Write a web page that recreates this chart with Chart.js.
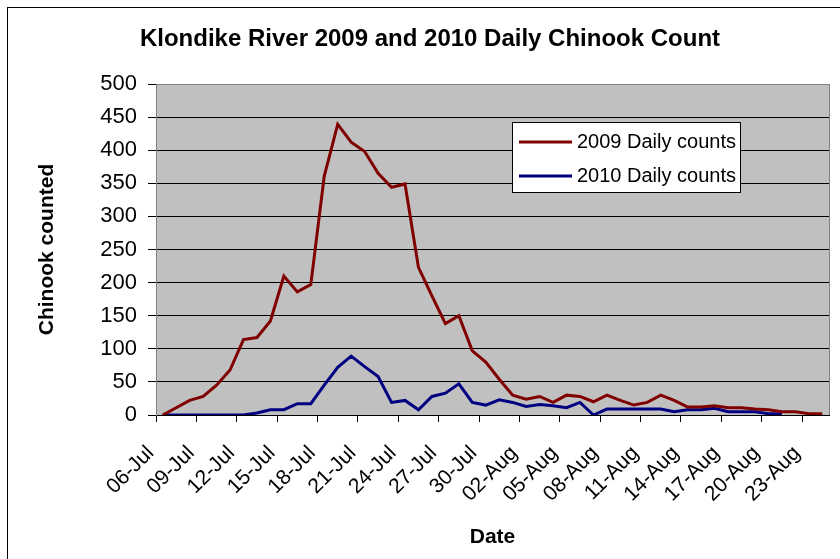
<!DOCTYPE html>
<html>
<head>
<meta charset="utf-8">
<script src="https://cdn.jsdelivr.net/npm/chart.js@4.4.1/dist/chart.umd.min.js"></script>
<style>
  html, body { margin: 0; padding: 0; background: #fff; }
  #wrap { width: 840px; height: 559px; }
</style>
</head>
<body>
<div id="wrap"><canvas id="chinookChart" width="840" height="559"></canvas></div>
<script>
const TITLE = "Klondike River 2009 and 2010 Daily Chinook Count";
const DATES = [
  "06-Jul", "07-Jul", "08-Jul", "09-Jul", "10-Jul", "11-Jul", "12-Jul", "13-Jul", "14-Jul", "15-Jul",
  "16-Jul", "17-Jul", "18-Jul", "19-Jul", "20-Jul", "21-Jul", "22-Jul", "23-Jul", "24-Jul", "25-Jul",
  "26-Jul", "27-Jul", "28-Jul", "29-Jul", "30-Jul", "31-Jul", "01-Aug", "02-Aug", "03-Aug", "04-Aug",
  "05-Aug", "06-Aug", "07-Aug", "08-Aug", "09-Aug", "10-Aug", "11-Aug", "12-Aug", "13-Aug", "14-Aug",
  "15-Aug", "16-Aug", "17-Aug", "18-Aug", "19-Aug", "20-Aug", "21-Aug", "22-Aug", "23-Aug", "24-Aug"
];
const COUNTS_2009 = [
  0, 11, 22, 28, 45, 68, 114, 117, 142, 210,
  186, 197, 361, 439, 412, 398, 365, 344, 349, 223,
  180, 138, 150, 97, 80, 54, 30, 24, 28, 19,
  30, 28, 20, 30, 22, 15, 19, 30, 22, 12,
  12, 14, 11, 11, 9, 8, 5, 5, 2, 2
];
const COUNTS_2010 = [
  0, 0, 0, 0, 0, 0, 0, 3, 8, 8,
  17, 17, 45, 72, 89, 73, 58, 19, 22, 8,
  28, 33, 47, 19, 15, 23, 19, 13, 16, 14,
  11, 19, 0, 9, 9, 9, 9, 9, 5, 8,
  8, 10, 5, 5, 5, 2, 2, null, null, null
];
const Y_TICKS = [0, 50, 100, 150, 200, 250, 300, 350, 400, 450, 500];

const FONT = "'Liberation Sans', Arial, sans-serif";

// white page, outer frame, grey plot area and the title
const plotBackground = {
  id: "plotBackground",
  beforeDraw(chart) {
    const { ctx, chartArea: a } = chart;
    ctx.save();
    ctx.fillStyle = "#fff";
    ctx.fillRect(0, 0, chart.width, chart.height);
    ctx.strokeStyle = "#000";
    ctx.lineWidth = 1;
    ctx.strokeRect(7.5, 7.5, chart.width, chart.height);
    ctx.fillStyle = "#c0c0c0";
    ctx.fillRect(a.left, a.top, a.right - a.left, a.bottom - a.top);
    ctx.fillStyle = "#000";
    ctx.font = "bold 24px " + FONT;
    ctx.textAlign = "center";
    ctx.textBaseline = "alphabetic";
    ctx.fillText(TITLE, 430, 46);
    ctx.restore();
  },
  afterDatasetsDraw(chart) {
    const { ctx, chartArea: a } = chart;
    ctx.save();
    ctx.strokeStyle = "#808080";
    ctx.lineWidth = 1;
    ctx.beginPath();
    ctx.moveTo(Math.round(a.right) + 0.5, a.top);
    ctx.lineTo(Math.round(a.right) + 0.5, a.bottom);
    ctx.stroke();
    ctx.restore();
  }
};

// Excel style legend box inside the plot
const boxLegend = {
  id: "boxLegend",
  afterDraw(chart) {
    const { ctx } = chart;
    const x = 512.5, y = 122.5, w = 228, h = 70;
    ctx.save();
    ctx.fillStyle = "#fff";
    ctx.fillRect(x, y, w, h);
    ctx.strokeStyle = "#000";
    ctx.lineWidth = 1;
    ctx.strokeRect(x, y, w, h);
    ctx.font = "20px " + FONT;
    ctx.textBaseline = "middle";
    chart.data.datasets.forEach((ds, i) => {
      const ly = 142 + i * 34;
      ctx.strokeStyle = ds.borderColor;
      ctx.lineWidth = 3;
      ctx.beginPath();
      ctx.moveTo(519, ly);
      ctx.lineTo(572, ly);
      ctx.stroke();
      ctx.fillStyle = "#000";
      ctx.fillText(ds.label, 577, ly);
    });
    ctx.restore();
  }
};

new Chart(document.getElementById("chinookChart"), {
  type: "line",
  data: {
    labels: DATES,
    datasets: [
      {
        label: "2009 Daily counts",
        data: COUNTS_2009,
        borderColor: "#800000",
        borderWidth: 3,
        pointRadius: 0,
        tension: 0
      },
      {
        label: "2010 Daily counts",
        data: COUNTS_2010,
        borderColor: "#000080",
        borderWidth: 3,
        pointRadius: 0,
        tension: 0
      }
    ]
  },
  options: {
    responsive: false,
    animation: false,
    layout: { padding: { left: 0, right: 11, top: 84, bottom: 0 } },
    plugins: {
      legend: { display: false },
      tooltip: { enabled: false },
      title: { display: false }
    },
    scales: {
      x: {
        offset: true,
        grid: {
          offset: true,
          drawOnChartArea: false,
          tickLength: 7,
          color: (c) => (c.index % 3 === 0 ? "#000" : "rgba(0,0,0,0)")
        },
        border: { color: "#000" },
        ticks: {
          autoSkip: false,
          minRotation: 45,
          maxRotation: 45,
          padding: 19,
          labelOffset: -12,
          color: "#000",
          font: { family: FONT, size: 21 },
          callback: function (v, i) { return i % 3 === 0 ? DATES[i] : ""; }
        },
        title: {
          display: true,
          text: "Date",
          color: "#000",
          font: { family: FONT, size: 21, weight: "bold" },
          padding: { top: 0, bottom: 9 }
        },
        afterFit: (s) => {
          s.height = 144;
          s.paddingLeft = 0;
          s.paddingRight = 0;
        }
      },
      y: {
        min: 0,
        max: 500,
        afterBuildTicks: (s) => { s.ticks = Y_TICKS.map((v) => ({ value: v })); },
        grid: {
          color: (c) => (c.tick && c.tick.value === 500 ? "#808080" : "#000"),
          tickColor: "#000",
          tickLength: 8
        },
        border: { color: "#808080" },
        ticks: {
          padding: 11,
          color: "#000",
          font: { family: FONT, size: 22 }
        },
        title: {
          display: true,
          text: "Chinook counted",
          color: "#000",
          font: { family: FONT, size: 21, weight: "bold" },
          padding: { top: 35, bottom: 0 }
        },
        afterFit: (s) => { s.width = 156; }
      }
    }
  },
  plugins: [plotBackground, boxLegend]
});
</script>
</body>
</html>
